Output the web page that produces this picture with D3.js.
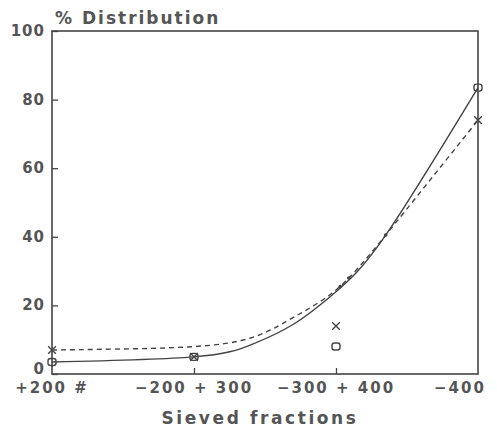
<!DOCTYPE html>
<html>
<head>
<meta charset="utf-8">
<script src="https://cdn.jsdelivr.net/npm/d3@7"></script>
<style>
  body { margin: 0; background: #fff; }
  text { font-family: "DejaVu Sans", sans-serif; font-weight: bold; fill: #555; }
</style>
</head>
<body>
<script>
// chart size and plot box
const WIDTH = 497, HEIGHT = 428;
let margin = {top: 31, right: 19, bottom: 54, left: 52},
    width = WIDTH - margin.left - margin.right,
    height = HEIGHT - margin.top - margin.bottom;

// data
const categories = ["+200 #", "-200 + 300", "-300 + 400", "-400"];
const yTicks = [0, 20, 40, 60, 80, 100];

// measured points (circle and cross markers)
const circleVals = [3.5, 5, 8, 83.5];
const crossVals  = [7, 5, 14, 74];

// fitted curves, position along the category axis (0..3) and value
const solidPos = [0, 1, 1.4, 1.7, 2, 2.35, 3];
const solidVal = [3.5, 5, 8.5, 14.5, 24, 40.5, 83.5];
const dashPos  = [0, 0.5, 1, 1.4, 1.7, 2, 2.35, 3];
const dashVal  = [7, 7.3, 8, 10.5, 16.5, 24.5, 40.5, 74];

// small dots on the curve
const dotPos = [2.03, 2.09, 2.35];
const dotVal = [25.5, 28, 40.5];

let svg = d3.select("body").append("svg")
    .attr("width", WIDTH)
    .attr("height", HEIGHT);

let chart = svg.append("g")
    .attr("transform", "translate(" + margin.left + "," + margin.top + ")");

let xScale = d3.scaleLinear()
    .domain([0, categories.length - 1])
    .range([0, width]);

let yScale = d3.scaleLinear()
    .domain([0, 100])
    .range([height, 0]);

const ink = "#444";

// frame
chart.append("rect")
    .attr("width", width)
    .attr("height", height)
    .attr("fill", "none")
    .attr("stroke", ink)
    .attr("stroke-width", 1.6);

// y axis, ticks pointing inward
let yAxis = chart.append("g")
    .call(d3.axisRight(yScale).tickValues(yTicks).tickSize(6).tickFormat(""));
yAxis.select(".domain").remove();
yAxis.selectAll("line").attr("stroke", ink).attr("stroke-width", 1.3);

chart.selectAll(".ylab")
    .data(yTicks)
    .enter().append("text")
    .attr("class", "ylab")
    .attr("x", -7)
    .attr("y", d => yScale(d) + (d === 0 ? 0 : 5))
    .attr("text-anchor", "end")
    .attr("font-size", 15)
    .style("letter-spacing", "1px")
    .text(d => d);

// x axis, inner ticks only at the middle categories
let xAxis = chart.append("g")
    .attr("transform", "translate(0," + height + ")")
    .call(d3.axisTop(xScale).tickValues([1, 2]).tickSize(6).tickFormat(""));
xAxis.select(".domain").remove();
xAxis.selectAll("line").attr("stroke", ink).attr("stroke-width", 1.3);

const xLabelShift = [0, 0, 0, -18];
chart.selectAll(".xlab")
    .data(categories)
    .enter().append("text")
    .attr("class", "xlab")
    .attr("x", (d, i) => xScale(i) + xLabelShift[i])
    .attr("y", height + 19)
    .attr("text-anchor", "middle")
    .attr("font-size", 15)
    .style("letter-spacing", "2px")
    .text(d => d.replace(/-/g, "\u2212"));

// titles
svg.append("text")
    .attr("x", 55)
    .attr("y", 24)
    .attr("font-size", 17)
    .style("letter-spacing", "2px")
    .text("% Distribution");

svg.append("text")
    .attr("x", margin.left + width / 2 - 5)
    .attr("y", 424)
    .attr("text-anchor", "middle")
    .attr("font-size", 17)
    .style("letter-spacing", "2.6px")
    .text("Sieved fractions");

// curves
let line = d3.line()
    .x(d => xScale(d[0]))
    .y(d => yScale(d[1]))
    .curve(d3.curveNatural);

chart.append("path")
    .datum(d3.zip(solidPos, solidVal))
    .attr("d", line)
    .attr("fill", "none")
    .attr("stroke", ink)
    .attr("stroke-width", 1.4);

chart.append("path")
    .datum(d3.zip(dashPos, dashVal))
    .attr("d", line)
    .attr("fill", "none")
    .attr("stroke", ink)
    .attr("stroke-width", 1.4)
    .attr("stroke-dasharray", "5,4");

// small dots along the curve
chart.selectAll(".dot")
    .data(d3.zip(dotPos, dotVal))
    .enter().append("circle")
    .attr("class", "dot")
    .attr("cx", d => xScale(d[0]))
    .attr("cy", d => yScale(d[1]))
    .attr("r", 1.8)
    .attr("fill", ink);

// circle/box markers
chart.selectAll(".box")
    .data(circleVals)
    .enter().append("rect")
    .attr("class", "box")
    .attr("x", (d, i) => xScale(i) - 4)
    .attr("y", d => yScale(d) - 3.5)
    .attr("width", 8)
    .attr("height", 7)
    .attr("rx", 2.5)
    .attr("fill", "none")
    .attr("stroke", ink)
    .attr("stroke-width", 1.4);

// cross markers
let cross = d3.symbol().type(d3.symbolX).size(40);
chart.selectAll(".cross")
    .data(crossVals)
    .enter().append("path")
    .attr("class", "cross")
    .attr("transform", (d, i) => "translate(" + xScale(i) + "," + yScale(d) + ")")
    .attr("d", cross)
    .attr("fill", "none")
    .attr("stroke", ink)
    .attr("stroke-width", 1.4);
</script>
</body>
</html>
